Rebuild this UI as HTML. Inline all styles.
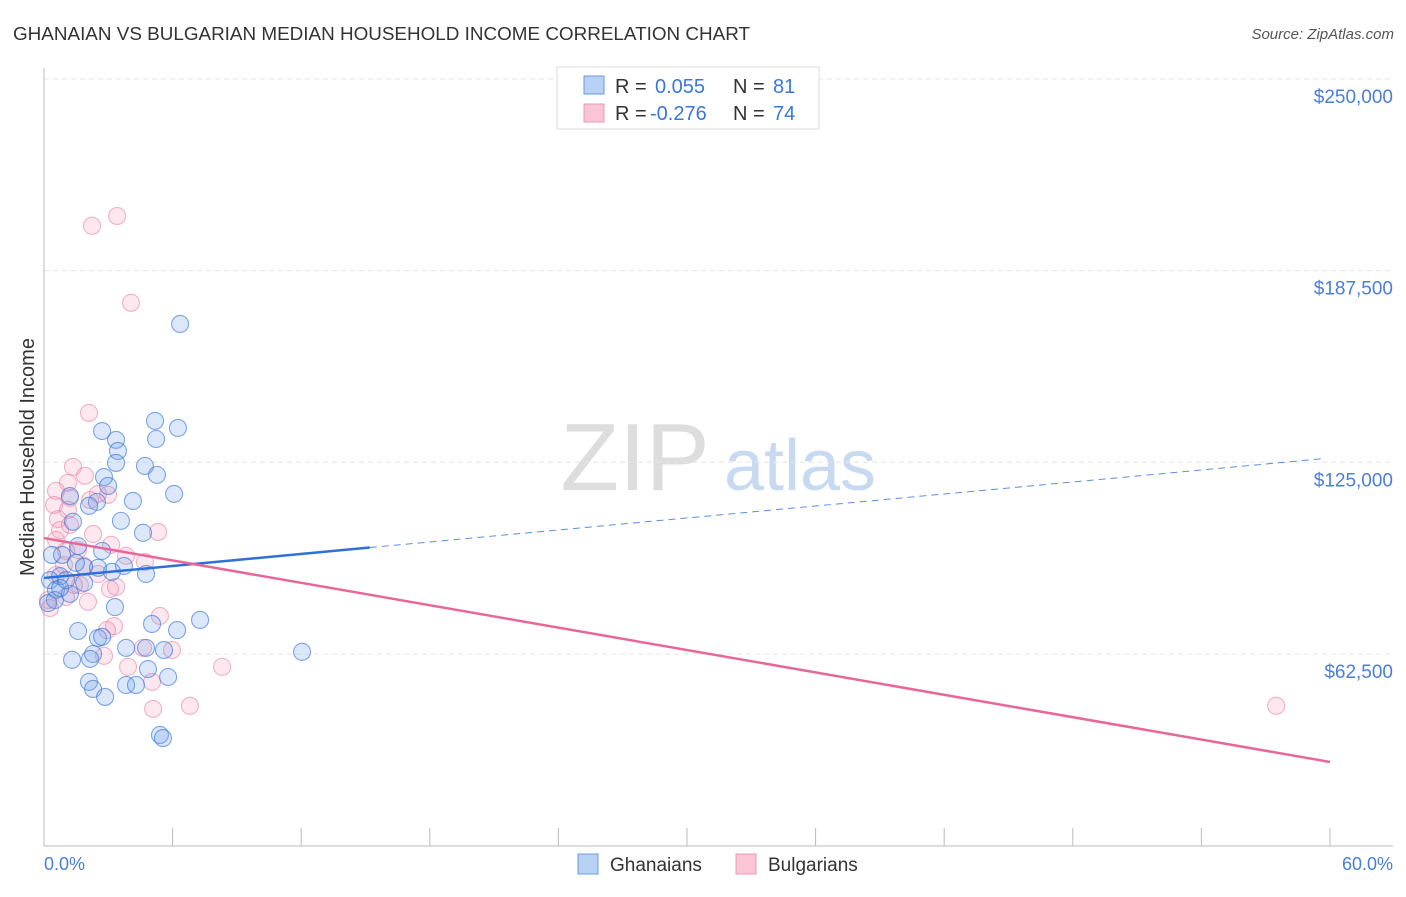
<!DOCTYPE html>
<html><head><meta charset="utf-8"><style>
body{margin:0;background:#fff;font-family:"Liberation Sans",sans-serif}
svg text{font-family:"Liberation Sans",sans-serif}
</style></head><body>
<svg id="chart" width="1406" height="892">
<text x="13" y="40" font-size="18" fill="#333" textLength="737" lengthAdjust="spacingAndGlyphs">GHANAIAN VS BULGARIAN MEDIAN HOUSEHOLD INCOME CORRELATION CHART</text>
<text x="1394" y="39" font-size="15" fill="#555" text-anchor="end" font-style="italic">Source: ZipAtlas.com</text>
<text x="635" y="490" font-size="96" fill="#ddd" font-family="Liberation Serif" text-anchor="middle">ZIP</text>
<text x="800" y="490" font-size="72" fill="#c8daf2" text-anchor="middle">atlas</text>
<g id="grid"></g><g id="axes"></g><g id="pts"></g><g id="trends"></g>
<text transform="translate(34,457) rotate(-90)" font-size="20" fill="#333" text-anchor="middle">Median Household Income</text>
<text x="44" y="870" font-size="18" fill="#4a7fd6">0.0%</text>
<text x="1393" y="870" font-size="18" fill="#4a7fd6" text-anchor="end">60.0%</text>
<g>
<rect x="557" y="67" width="262" height="62" fill="#fff" stroke="#ddd"/>
<rect x="584" y="76" width="20" height="18" fill="#b8d2f5" stroke="#6a9ae0"/>
<rect x="584" y="104" width="20" height="18" fill="#fbc5d5" stroke="#ec98b4"/>
<text x="615" y="93" font-size="20" fill="#333">R = </text><text x="655" y="93" font-size="20" fill="#3a78d8">0.055</text>
<text x="733" y="93" font-size="20" fill="#333">N = </text><text x="773" y="93" font-size="20" fill="#3a78d8">81</text>
<text x="615" y="120" font-size="20" fill="#333">R = </text><text x="650" y="120" font-size="20" fill="#3a78d8">-0.276</text>
<text x="733" y="120" font-size="20" fill="#333">N = </text><text x="773" y="120" font-size="20" fill="#3a78d8">74</text>
</g>
<g>
<rect x="578" y="854" width="20" height="20" fill="#b8d2f5" stroke="#6a9ae0"/>
<text x="610" y="871" font-size="19" fill="#333">Ghanaians</text>
<rect x="736" y="854" width="20" height="20" fill="#fbc5d5" stroke="#ec98b4"/>
<text x="768" y="871" font-size="19" fill="#333">Bulgarians</text>
</g>
</svg>
<script>
const yTicks=[62500,125000,187500,250000];
const yTickLabels=["$62,500","$125,000","$187,500","$250,000"];
const xTicks=[0,6,12,18,24,30,36,42,48,54,60];
const blueX=[6.35,5.18,6.25,2.71,5.23,3.36,3.45,3.36,4.71,5.27,2.80,2.99,6.07,1.21,4.15,2.47,2.10,3.59,1.35,4.62,1.59,2.71,0.37,3.73,3.17,4.76,1.87,2.52,0.75,0.28,0.56,1.21,3.31,7.28,5.04,1.59,6.21,2.52,2.71,3.83,4.76,5.60,2.29,1.31,2.15,12.04,4.85,5.79,2.10,3.83,4.29,2.29,2.85,5.41,5.55,0.51,0.19,0.75,1.03,1.49,1.87,0.84];
const blueY=[170.1,138.5,136.2,135.2,132.6,132.3,128.7,124.8,123.8,120.9,120.2,117.3,114.7,114.0,112.4,112.1,110.8,105.9,105.6,102.0,97.7,96.1,94.8,91.2,89.3,88.6,90.9,90.6,87.9,86.6,83.4,82.1,77.8,73.6,72.3,70.0,70.3,67.7,68.1,64.5,64.5,63.8,62.5,60.6,60.9,63.2,57.6,55.0,53.4,52.4,52.4,51.1,48.5,36.1,35.1,80.1,79.1,84.0,86.6,92.2,85.7,94.8];
const pinkX=[3.41,2.24,4.06,2.10,1.35,1.91,1.12,0.56,2.52,1.21,0.47,1.12,0.65,1.21,2.29,5.32,0.56,1.03,1.59,3.13,3.83,4.71,1.87,2.52,3.08,3.36,2.05,1.03,5.41,3.27,2.94,4.62,3.92,2.80,5.97,8.31,5.04,6.81,5.09,57.49,0.19,0.28,0.56,0.93,1.68,1.40,0.75,2.15,2.99];
const pinkY=[205.3,202.1,177.0,141.1,123.5,120.6,118.3,115.7,114.7,113.4,111.1,109.5,106.5,104.6,101.6,102.3,99.7,96.1,96.4,98.1,94.5,92.5,91.2,88.6,83.7,84.4,79.5,81.1,74.9,71.6,70.3,64.5,58.3,61.9,63.8,58.3,53.4,45.6,44.6,45.6,80.1,77.5,88.3,91.5,85.0,85.0,102.9,112.7,114.4];
const blueTrend=[87.3,126.4], pinkTrend=[100.3,27.3];
const NS="http://www.w3.org/2000/svg";
const sx=v=>44+v*(1330-44)/60;
const sy=v=>845.7-v*191.7/62.5;
function mk(tag,attrs,parent){const e=document.createElementNS(NS,tag);for(const k in attrs)e.setAttribute(k,attrs[k]);document.getElementById(parent).appendChild(e);return e;}
yTicks.forEach((t,i)=>{
 const l=mk('line',{x1:44,x2:1393,y1:sy(t/1000),y2:sy(t/1000),stroke:'#e6e6e6','stroke-dasharray':'5,4'},'grid');
 
 
 const tx=mk('text',{x:1393,y:sy(t/1000)+24,'font-size':19,fill:'#4a7fd6','text-anchor':'end'},'grid');
 tx.textContent=yTickLabels[i];
 
 
});
const tg=mk('line',{x1:44,x2:1393,y1:79,y2:79,stroke:'#e6e6e6','stroke-dasharray':'5,4'},'grid');


const ya=mk('line',{x1:44,x2:44,y1:68,y2:846,stroke:'#bbb'},'axes');


const xa=mk('line',{x1:44,x2:1393,y1:846,y2:846,stroke:'#bbb'},'axes');


xTicks.forEach(t=>{
 const l=mk('line',{x1:sx(t),x2:sx(t),y1:828,y2:846,stroke:'#bbb'},'axes');
 
 
});
function pts(X,Y,fill,stroke,name){X.forEach((x,i)=>{
 const c=mk('circle',{cx:sx(x),cy:sy(Y[i]),r:8.5,fill:fill,stroke:stroke,'stroke-width':1.1},'pts');
 
 
});}
pts(pinkX,pinkY,'rgba(244,150,180,0.22)','rgba(232,130,165,0.6)','bulgarian-point');
pts(blueX,blueY,'rgba(110,160,235,0.24)','rgba(60,120,215,0.65)','ghanaian-point');
const bAt=x=>blueTrend[0]+(blueTrend[1]-blueTrend[0])*x/60;
const b1=mk('line',{x1:sx(0),y1:sy(bAt(0)),x2:sx(15.2),y2:sy(bAt(15.2)),stroke:'#2f6fd8','stroke-width':2.5},'trends');


const b2=mk('line',{x1:sx(15.2),y1:sy(bAt(15.2)),x2:sx(59.8),y2:sy(bAt(59.8)),stroke:'#5a8fe0','stroke-width':1,'stroke-dasharray':'7,5'},'trends');


const p1=mk('line',{x1:sx(0),y1:sy(pinkTrend[0]),x2:sx(60),y2:sy(pinkTrend[1]),stroke:'#e8679a','stroke-width':2.5},'trends');


</script>
</body></html>
